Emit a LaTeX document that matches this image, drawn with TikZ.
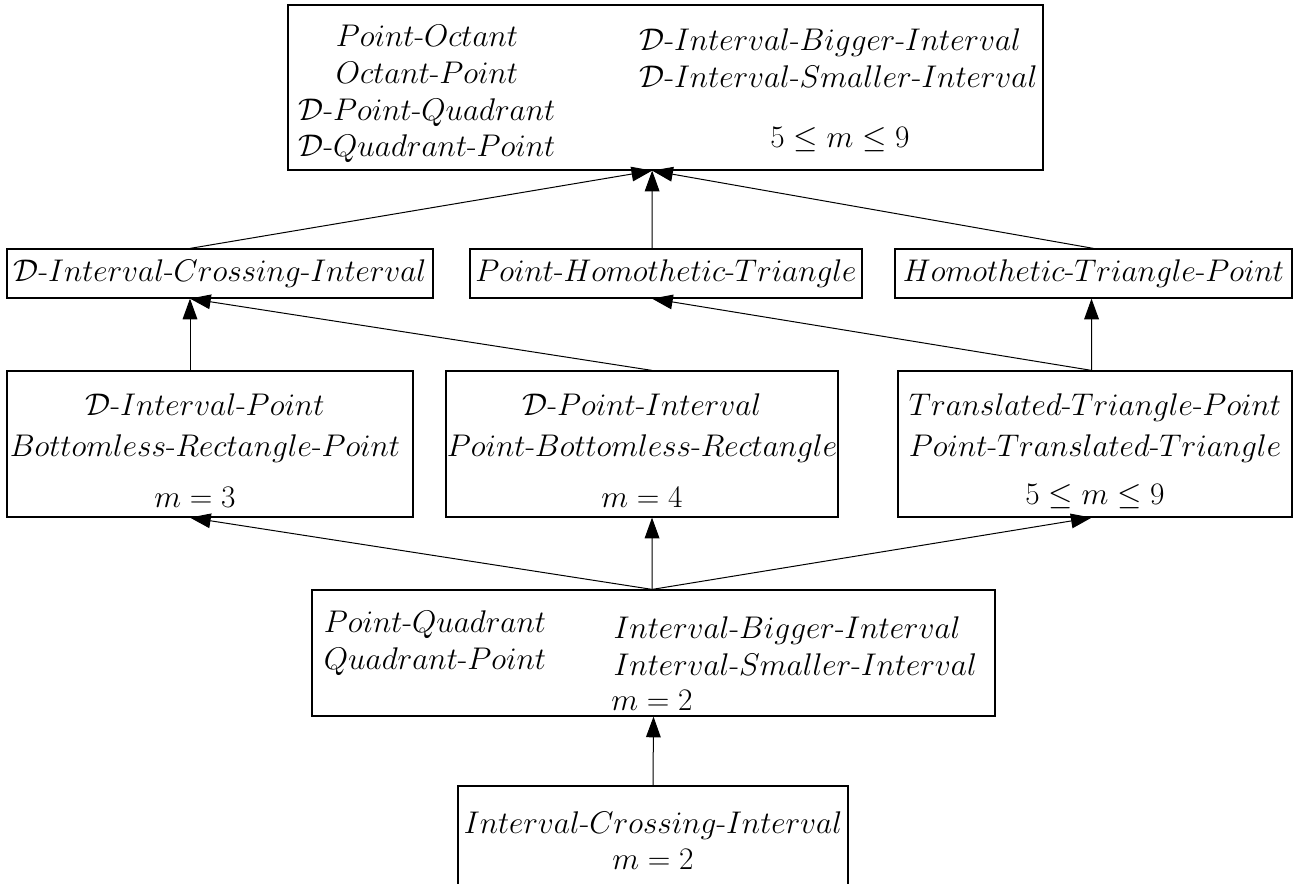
\documentclass[tikz,border=0pt]{standalone}
\usepackage{fix-cm}
\usetikzlibrary{arrows.meta}
\tikzset{every picture/.style={line width=0.75pt}}
\newcommand{\hy}{\mbox{-}}

\begin{document}
\begin{tikzpicture}[x=0.75pt,y=0.75pt,yscale=-1,xscale=1,
	box/.style={draw,rectangle,inner sep=0pt,line width=0.9pt},
	txt/.style={inner sep=0.75pt,font=\fontsize{23.5}{27.5}\selectfont},
	wide/.style={txt,font=\fontsize{23.5}{30.5}\selectfont},
	up/.style={-{Triangle[length=15.5pt,width=11pt]}}]
	\useasboundingbox (0,0) rectangle (1299,883);
	% Boxes
	\node[box,minimum width=566.25pt,minimum height=123.75pt] (top) at (665.5,87.5) {};
	\node[box,txt,minimum width=319.5pt,minimum height=36.75pt] (A) at (220,273.5) {$\mathcal{D}\hy Interval\hy Crossing\hy Interval$};
	\node[box,txt,minimum width=294pt,minimum height=36.75pt] (B) at (666,273.5) {$Point\hy Homothetic\hy Triangle$};
	\node[box,txt,minimum width=297.75pt,minimum height=36.75pt] (C) at (1093.5,273.5) {$Homothetic\hy Triangle\hy Point$};
	\node[box,minimum width=304.5pt,minimum height=109.5pt] (D) at (210,444) {};
	\node[box,minimum width=294pt,minimum height=109.5pt] (E) at (642,444) {};
	\node[box,minimum width=295.5pt,minimum height=109.5pt] (F) at (1095,444) {};
	\node[box,minimum width=512.25pt,minimum height=94.5pt] (G) at (653.5,653) {};
	\node[box,minimum width=292.5pt,minimum height=123pt] (H) at (653,868) {};
	
	% Text Node
	\node[txt,align=center] (topL) at (427,94) {$Point\hy Octant$\\$Octant\hy Point$\\$\mathcal{D}\hy Point\hy Quadrant$\\$\mathcal{D}\hy Quadrant\hy Point$};
	\node[txt,align=left,anchor=west] (topR) at (638,58) {$\mathcal{D}\hy Interval\hy Bigger\hy Interval$\\$\mathcal{D}\hy Interval\hy Smaller\hy Interval$};
	\node[txt] (topM) at (840,140) {$5\leq m\leq 9$};
	% Text Node
	\node[wide,align=center] (Dt) at (205,428) {$\mathcal{D}\hy Interval\hy Point$\\$Bottomless\hy Rectangle\hy Point$};
	\node[txt] (Dm) at (195,497) {$m=3$};
	\node[wide,align=center] (Et) at (642,428) {$\mathcal{D}\hy Point\hy Interval$\\$Point\hy Bottomless\hy Rectangle$};
	\node[txt] (Em) at (642,497) {$m=4$};
	\node[wide,align=center] (Ft) at (1095,428) {$Translated\hy Triangle\hy Point$\\$Point\hy Translated\hy Triangle$};
	\node[txt] (Fm) at (1095,497) {$5\leq m\leq 9$};
	% Text Node
	\node[txt,align=center] (GL) at (435,643) {$Point\hy Quadrant$\\$Quadrant\hy Point$};
	\node[txt,align=left,anchor=west] (GR) at (612,646) {$Interval\hy Bigger\hy Interval$\\$Interval\hy Smaller\hy Interval$};
	\node[txt] (Gm) at (652,700) {$m=2$};
	\node[txt,align=center] (Ht) at (653,840.5) {$Interval\hy Crossing\hy Interval$\\$m=2$};
	
	% Arrows
	\draw[up] ([xshift=-22.5pt]A.north) -- ([xshift=-10pt]top.south);
	\draw[up] ([xshift=-10.5pt]B.north) -- ([xshift=-10pt]top.south);
	\draw[up] (C.north) -- ([xshift=-10pt]top.south);
	\draw[up] ([xshift=-15pt]D.north) -- ([xshift=-22.5pt]A.south);
	\draw[up] ([xshift=7.5pt]E.north) -- ([xshift=-22.5pt]A.south);
	\draw[up] ([xshift=-2.5pt]F.north) -- ([xshift=-10.5pt]B.south);
	\draw[up] ([xshift=-2.5pt]F.north) -- ([xshift=-1.5pt]C.south);
	\draw[up] ([xshift=-1pt]G.north) -- ([xshift=-15pt]D.south);
	\draw[up] ([xshift=-1pt]G.north) -- ([xshift=7.5pt]E.south);
	\draw[up] ([xshift=-1pt]G.north) -- ([xshift=-2.5pt]F.south);
	\draw[up] (H.north) -- (G.south);
\end{tikzpicture}
\end{document}
